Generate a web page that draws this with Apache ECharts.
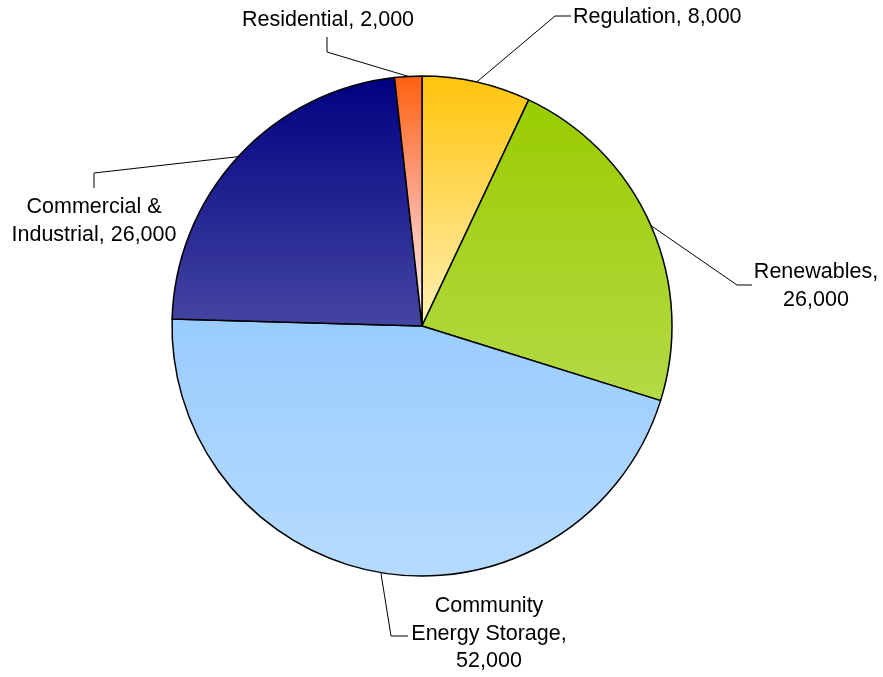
<!DOCTYPE html>
<html>
<head>
<meta charset="utf-8">
<script src="https://cdn.jsdelivr.net/npm/echarts@6/dist/echarts.min.js"></script>
<style>
html,body{margin:0;padding:0;background:#fff;}
#chart{width:883px;height:677px;}
</style>
</head>
<body>
<div id="chart"></div>
<script>
// ---- data ----
var categories = ['Regulation', 'Renewables', 'Community Energy Storage', 'Commercial & Industrial', 'Residential'];
var values = [8000, 26000, 52000, 26000, 2000];
var labelTexts = [
  'Regulation, 8,000',
  'Renewables,\n26,000',
  'Community\nEnergy Storage,\n52,000',
  'Commercial &\nIndustrial, 26,000',
  'Residential, 2,000'
];

// ---- styles ----
var gradients = [
  [['#FFC40A', 0], ['#FFF0B4', 1]],
  [['#99CC00', 0], ['#B4DA46', 1]],
  [['#99CCFF', 0], ['#B6DBFF', 1]],
  [['#000080', 0], ['#4546A2', 1]],
  [['#FF6010', 0], ['#FFA890', 0.5], ['#FFFAFA', 1]]
];
// label anchor and leader elbows (layout only)
var labelLayouts = [
  {x: 573, y: 17, align: 'left',   elbow: [555, 16], end: [571, 16]},
  {x: 816, y: 286, align: 'center', elbow: [737, 285], end: [752, 285]},
  {x: 489, y: 634, align: 'center', elbow: [391, 636], end: [408, 636]},
  {x: 94,  y: 221, align: 'center', elbow: [94, 173],  end: [94, 188]},
  {x: 328, y: 20,  align: 'center', elbow: [327, 52],  end: [327, 37]}
];
var cx = 422, cy = 326, R = 250;
var total = values.reduce(function(a, b){ return a + b; }, 0);

function edgePoint(i) {
  var before = 0;
  for (var k = 0; k < i; k++) before += values[k];
  var mid = (before + values[i] / 2) / total * 2 * Math.PI;
  return [cx + R * Math.sin(mid), cy - R * Math.cos(mid)];
}

var chart = echarts.init(document.getElementById('chart'));
chart.setOption({
  animation: false,
  backgroundColor: '#ffffff',
  series: [{
    type: 'pie',
    center: [cx, cy],
    radius: [0, R],
    startAngle: 90,
    clockwise: true,
    avoidLabelOverlap: false,
    data: categories.map(function(name, i) {
      return {
        name: name,
        value: values[i],
        itemStyle: {
          color: {
            type: 'linear', x: 0, y: 0, x2: 0, y2: 1,
            colorStops: gradients[i].map(function(s) { return {offset: s[1], color: s[0]}; })
          }
        },
        label: { formatter: labelTexts[i] }
      };
    }),
    itemStyle: { borderColor: '#000000', borderWidth: 1.5 },
    label: {
      show: true,
      position: 'outside',
      color: '#000000',
      fontFamily: 'Liberation Sans, Arial, sans-serif',
      fontSize: 21.5,
      lineHeight: 27.5
    },
    labelLine: {
      show: true,
      length: 20,
      length2: 10,
      lineStyle: { color: '#000000', width: 1 }
    },
    labelLayout: function(params) {
      var i = params.dataIndex;
      var L = labelLayouts[i];
      var start = edgePoint(i);
      return {
        x: L.x,
        y: L.y,
        align: L.align,
        verticalAlign: 'middle',
        labelLinePoints: [start, L.elbow, L.end]
      };
    },
    emphasis: { disabled: true }
  }]
});
</script>
</body>
</html>
